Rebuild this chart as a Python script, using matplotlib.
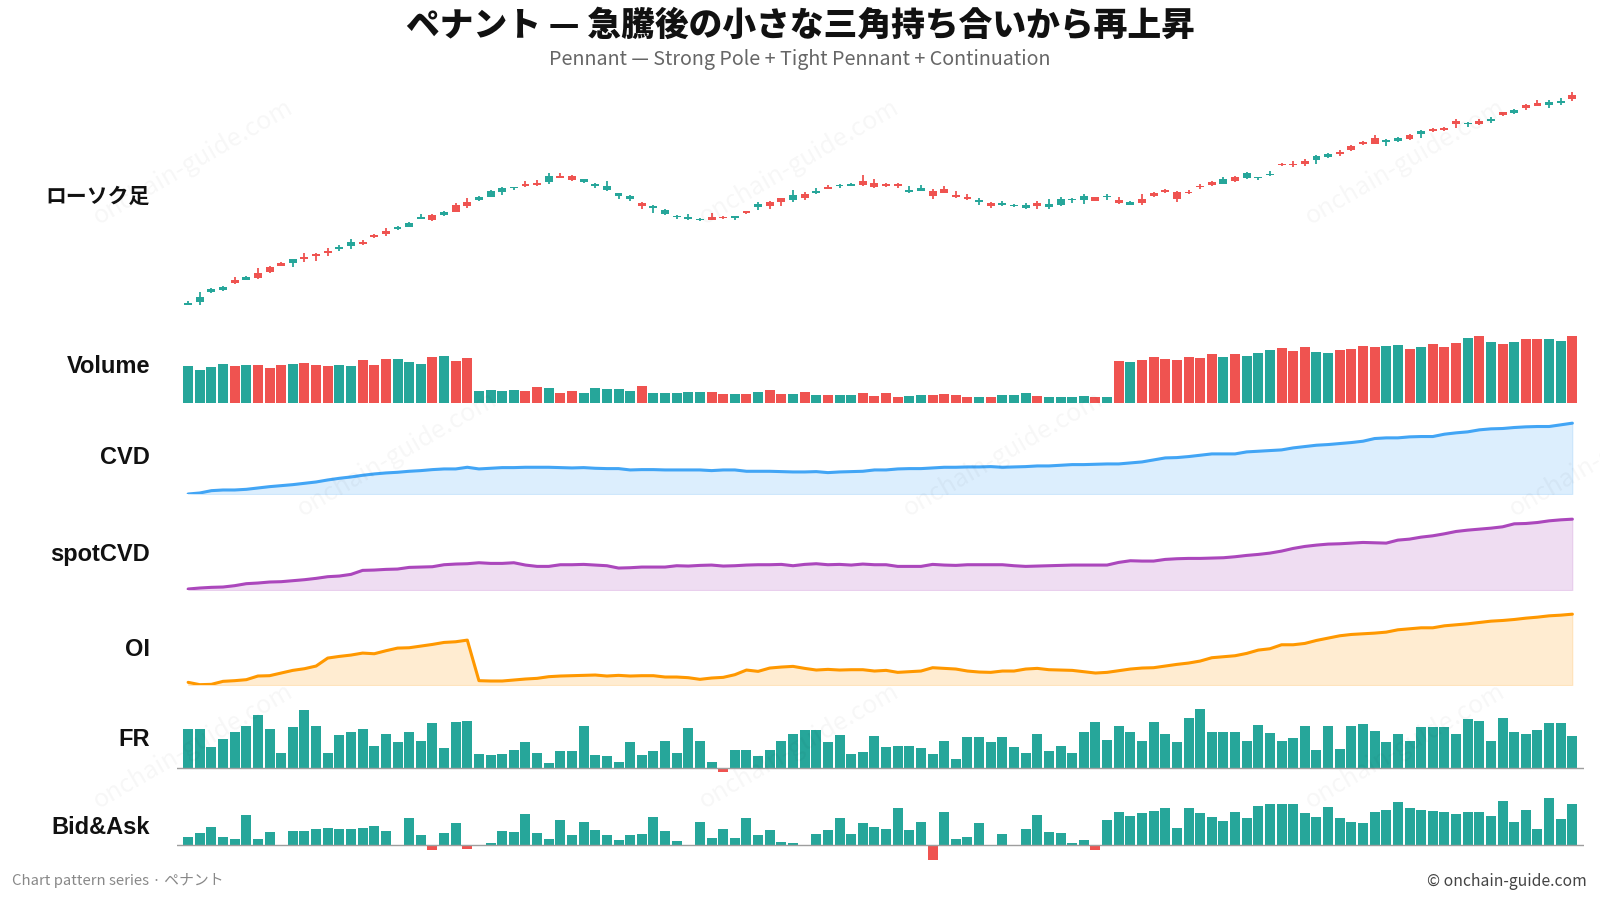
import matplotlib
matplotlib.use("Agg")

import matplotlib.pyplot as plt
import numpy as np

plt.rcParams["font.family"] = ["Noto Sans CJK JP", "DejaVu Sans"]

UP = "#26a69a"
DOWN = "#ef5350"

# ローソク足 (open / close / high / low)
opens = [95.0, 98.0, 108.0, 110.0, 120.3, 120.0, 127.3, 133.3, 137.3, 137.0,
         142.7, 146.3, 148.7, 151.0, 154.3, 158.0, 164.7, 169.3, 171.0, 173.0,
         181.3, 185.0, 185.0, 195.0, 198.3, 200.0, 203.3, 208.0, 211.7, 216.3,
         217.3, 218.0, 224.0, 224.0, 218.3, 214.0, 210.0, 204.3, 201.0, 196.7,
         192.3, 186.0, 183.0, 181.3, 180.0, 183.3, 183.3, 182.3, 188.7, 193.0,
         198.3, 201.7, 200.0, 206.3, 206.7, 213.3, 214.0, 214.3, 219.3, 217.3,
         216.3, 216.3, 208.0, 209.0, 209.3, 211.3, 205.0, 203.3, 198.0, 197.3,
         195.0, 194.0, 192.0, 196.7, 193.0, 195.0, 200.3, 200.0, 202.7, 203.0,
         199.7, 195.0, 201.3, 207.3, 209.7, 208.0, 208.3, 214.3, 218.0, 216.0,
         223.0, 222.0, 222.0, 224.7, 236.3, 236.3, 238.7, 240.0, 243.0, 248.0,
         254.3, 258.3, 262.0, 258.0, 259.0, 264.7, 266.0, 271.3, 272.3, 278.7,
         276.0, 279.0, 279.3, 287.7, 287.0, 295.0, 297.3, 294.7, 297.0, 305.3]
closes = [97.3, 103.3, 111.3, 113.3, 117.0, 123.3, 122.0, 128.0, 134.3, 140.7,
          140.7, 144.3, 146.7, 153.3, 158.3, 156.0, 163.0, 166.0, 173.3, 177.3,
          183.3, 180.0, 188.3, 188.3, 194.0, 203.3, 209.3, 212.3, 213.0, 214.0,
          215.0, 224.3, 222.0, 220.0, 220.7, 216.3, 214.3, 206.7, 204.3, 194.0,
          194.0, 190.3, 184.3, 182.7, 181.3, 180.0, 182.3, 183.7, 187.0, 196.3,
          194.0, 198.0, 205.3, 201.7, 209.3, 211.0, 215.3, 216.3, 214.7, 212.7,
          214.0, 214.0, 210.3, 212.3, 204.0, 207.0, 202.7, 201.0, 200.3, 194.0,
          197.3, 195.3, 195.0, 194.0, 196.3, 201.3, 201.3, 204.3, 199.3, 204.3,
          196.7, 198.3, 196.7, 204.0, 207.7, 201.0, 206.7, 212.7, 215.0, 221.0,
          219.0, 227.0, 223.0, 226.0, 234.7, 234.7, 236.3, 244.3, 246.3, 246.3,
          250.0, 256.3, 256.3, 260.0, 262.3, 261.0, 269.3, 269.0, 270.0, 276.0,
          277.3, 276.3, 281.3, 285.0, 289.7, 292.0, 294.3, 298.3, 299.3, 301.0]
highs = [99.0, 108.0, 112.3, 114.3, 123.0, 124.0, 132.0, 134.0, 138.0, 141.3,
         147.0, 147.0, 151.7, 155.0, 161.0, 159.7, 165.7, 172.0, 174.0, 178.0,
         185.7, 186.0, 189.0, 196.7, 202.0, 204.0, 210.0, 213.0, 213.3, 219.0,
         220.0, 226.7, 226.7, 225.0, 221.0, 216.7, 219.0, 207.3, 205.3, 198.0,
         195.0, 191.3, 185.0, 186.0, 181.7, 187.3, 184.0, 184.3, 189.3, 198.0,
         198.7, 202.3, 210.0, 208.0, 212.0, 215.0, 216.3, 217.0, 225.0, 221.0,
         216.7, 217.3, 214.0, 215.0, 211.0, 214.0, 208.7, 206.0, 202.3, 197.7,
         199.0, 196.0, 197.0, 199.0, 201.0, 203.0, 202.0, 206.0, 203.3, 206.0,
         203.0, 198.7, 206.0, 208.0, 210.7, 209.0, 210.0, 215.7, 218.7, 223.0,
         224.0, 228.0, 223.3, 229.0, 237.0, 239.0, 241.0, 245.0, 247.0, 250.0,
         255.0, 259.3, 265.0, 260.7, 263.3, 266.3, 270.3, 272.0, 273.3, 280.7,
         278.0, 281.3, 282.7, 288.3, 290.7, 296.3, 300.3, 300.3, 302.0, 308.0]
lows = [94.7, 95.3, 107.3, 109.3, 116.3, 119.7, 121.3, 127.3, 134.0, 133.0,
        138.3, 139.3, 144.3, 149.3, 151.3, 155.3, 162.3, 164.3, 170.3, 172.7,
        180.7, 179.3, 184.3, 187.7, 192.3, 199.3, 202.7, 205.0, 210.0, 213.3,
        214.3, 216.3, 221.7, 219.3, 217.3, 212.3, 209.3, 201.3, 199.3, 191.3,
        187.3, 185.3, 181.3, 180.3, 179.0, 179.7, 181.3, 180.3, 186.3, 190.3,
        191.0, 194.0, 198.0, 200.0, 206.3, 210.7, 212.0, 214.0, 214.0, 212.0,
        213.0, 212.0, 207.3, 208.7, 201.0, 206.7, 201.7, 200.3, 195.3, 192.0,
        194.0, 193.0, 191.0, 191.0, 191.0, 194.0, 197.0, 196.0, 198.7, 200.0,
        196.0, 194.7, 195.0, 203.0, 207.3, 198.0, 206.3, 211.0, 214.3, 215.7,
        218.3, 221.3, 220.0, 224.0, 234.0, 233.3, 234.0, 236.0, 242.3, 244.3,
        249.0, 255.3, 255.7, 254.0, 258.0, 260.3, 262.3, 268.0, 269.0, 272.0,
        273.3, 275.0, 277.0, 284.0, 286.0, 290.0, 293.7, 292.0, 295.0, 299.3]

volume = [110, 98, 107, 116, 110, 113, 113, 104, 113, 116,
          119, 113, 110, 113, 110, 128, 113, 131, 131, 122,
          116, 137, 140, 125, 134, 35, 38, 35, 38, 35,
          47, 44, 29, 35, 29, 44, 41, 41, 35, 50,
          29, 29, 29, 32, 32, 32, 26, 26, 26, 32,
          38, 26, 26, 32, 23, 23, 23, 23, 29, 20,
          29, 17, 20, 23, 23, 26, 23, 17, 17, 17,
          23, 23, 29, 20, 17, 17, 17, 20, 17, 17,
          125, 122, 128, 137, 131, 128, 137, 134, 146, 137,
          146, 140, 149, 158, 164, 155, 167, 152, 149, 158,
          161, 170, 167, 170, 173, 161, 167, 176, 167, 179,
          194, 200, 182, 176, 182, 191, 191, 191, 185, 200]

cvd = [0, 3, 10, 12, 12, 14, 18, 22, 25, 28,
       32, 36, 42, 47, 51, 56, 60, 63, 65, 68,
       70, 73, 75, 75, 80, 75, 77, 79, 79, 80,
       80, 80, 79, 78, 79, 77, 76, 76, 72, 73,
       73, 72, 72, 72, 72, 70, 72, 72, 68, 68,
       68, 67, 66, 66, 67, 64, 66, 67, 68, 72,
       72, 75, 76, 76, 78, 80, 80, 81, 81, 82,
       80, 81, 82, 84, 84, 86, 88, 88, 89, 90,
       90, 93, 96, 102, 108, 109, 112, 116, 120, 120,
       120, 126, 128, 130, 132, 138, 142, 146, 148, 151,
       154, 158, 166, 168, 168, 171, 172, 172, 179, 183,
       186, 192, 195, 196, 199, 201, 202, 202, 207, 212]

spot_cvd = [3, 6, 8, 9, 13, 19, 21, 24, 25, 28,
            31, 35, 40, 42, 47, 59, 60, 62, 63, 68,
            69, 70, 76, 78, 79, 82, 80, 80, 82, 75,
            71, 71, 76, 76, 77, 75, 73, 66, 67, 69,
            69, 69, 73, 72, 74, 75, 72, 73, 75, 76,
            76, 77, 73, 77, 79, 76, 77, 75, 78, 76,
            76, 71, 71, 71, 77, 75, 74, 76, 76, 76,
            76, 73, 71, 72, 73, 74, 75, 75, 75, 75,
            83, 88, 87, 87, 92, 94, 95, 95, 96, 97,
            100, 104, 107, 111, 117, 125, 131, 135, 138, 139,
            141, 143, 142, 141, 150, 153, 159, 163, 169, 176,
            180, 183, 186, 190, 199, 200, 203, 208, 211, 213]

oi = [8, 1, 2, 11, 13, 16, 27, 28, 36, 44,
      49, 57, 81, 86, 90, 96, 94, 103, 111, 112,
      117, 122, 128, 130, 135, 13, 12, 12, 15, 18,
      20, 25, 27, 28, 29, 30, 27, 29, 27, 28,
      28, 24, 24, 22, 17, 21, 23, 31, 45, 41,
      51, 54, 56, 50, 45, 47, 45, 46, 46, 42,
      44, 38, 40, 42, 52, 50, 48, 42, 39, 38,
      42, 42, 48, 50, 46, 45, 44, 40, 36, 38,
      43, 48, 51, 52, 57, 62, 66, 72, 82, 85,
      88, 95, 105, 109, 121, 121, 125, 134, 141, 148,
      152, 154, 156, 159, 166, 169, 172, 172, 178, 181,
      184, 188, 192, 194, 197, 201, 204, 208, 210, 213]

fr = [38, 38, 21, 28, 35, 41, 52, 38, 15, 40,
      57, 41, 15, 32, 35, 38, 22, 33, 25, 35,
      26, 44, 20, 45, 46, 14, 13, 14, 18, 25,
      15, 5, 17, 17, 41, 13, 12, 6, 25, 13,
      17, 26, 15, 39, 26, 6, -4, 18, 18, 12,
      18, 26, 33, 37, 37, 25, 32, 14, 16, 31,
      21, 22, 22, 20, 14, 26, 9, 30, 30, 25,
      30, 21, 15, 33, 17, 22, 15, 35, 45, 27,
      41, 35, 26, 45, 33, 25, 49, 58, 35, 35,
      35, 26, 42, 34, 26, 29, 41, 18, 41, 19,
      41, 43, 36, 25, 33, 26, 40, 40, 40, 33,
      48, 46, 26, 49, 35, 33, 37, 44, 44, 31]

bid_ask = [8, 12, 18, 8, 6, 29, 6, 13, 0, 14,
           14, 16, 17, 16, 16, 17, 19, 14, 0, 26,
           10, -5, 12, 21, -4, -1, 2, 14, 13, 30,
           12, 6, 24, 10, 22, 15, 10, 5, 10, 11,
           27, 14, 4, 0, 22, 7, 16, 7, 26, 10,
           15, 3, 2, 0, 11, 15, 26, 11, 21, 18,
           16, 36, 15, 22, -15, 32, 6, 8, 21, 0,
           11, -1, 16, 29, 13, 12, 2, 5, -5, 24,
           32, 28, 31, 33, 36, 17, 36, 31, 27, 23,
           32, 26, 38, 40, 40, 40, 31, 27, 37, 26,
           22, 21, 32, 34, 42, 36, 34, 33, 32, 30,
           32, 32, 28, 43, 22, 34, 16, 46, 25, 40]

n = len(closes)
x = np.arange(n)
colors = [UP if c >= o else DOWN for o, c in zip(opens, closes)]

fig = plt.figure(figsize=(16, 9), dpi=100)
fig.patch.set_facecolor("white")

LEFT, WIDTH = 176.5 / 1600, 1407.5 / 1600


def panel(top, bottom):
    # top / bottom in pixels from the top of the figure
    ax = fig.add_axes([LEFT, 1 - bottom / 900, WIDTH, (bottom - top) / 900])
    ax.set_xlim(-1, n)
    ax.axis("off")
    return ax


def label(text, y, size=17):
    fig.text(150 / 1600, 1 - y / 900, text, ha="right", va="center",
             fontsize=size, fontweight="bold", color="#111111",
             family=["Liberation Sans", "Noto Sans CJK JP"])


# watermark
for wx, wy in [(193, 162), (799, 162), (1405, 162),
               (397, 454), (1003, 454), (1609, 454),
               (193, 746), (799, 746), (1405, 746)]:
    fig.text(wx / 1600, 1 - wy / 900, "onchain-guide.com", rotation=30,
             ha="center", va="center", fontsize=18, color="#000000",
             alpha=0.035)

# candles
ax = panel(79, 318)
ax.vlines(x, lows, highs, color=colors, lw=1.3)
body_lo = np.minimum(opens, closes)
body_h = np.maximum(np.abs(np.subtract(closes, opens)), 0.9)
ax.bar(x, body_h, bottom=body_lo, width=0.68, color=colors)
lo, hi = min(lows), max(highs)
pad = (hi - lo) * 0.06
ax.set_ylim(lo - pad, hi + pad)
fig.text(150 / 1600, 1 - 196 / 900, "ローソク足", ha="right", va="center",
         fontsize=15, fontweight="bold", color="#111111")

# volume
ax = panel(330, 402.7)
ax.bar(x, volume, width=0.86, color=colors)
ax.set_ylim(0, max(volume) * 1.09)
label("Volume", 366)


def area(top, bottom, values, color):
    ax = panel(top, bottom)
    ax.fill_between(x, 0, values, facecolor=color, alpha=0.18,
                    edgecolor=color, lw=0.8)
    ax.plot(x, values, color=color, lw=2.2, solid_capstyle="round")
    ax.set_ylim(0, max(values) * 1.2)
    return ax


area(409, 494, cvd, "#42a5f5")
label("CVD", 458)
area(505, 590, spot_cvd, "#ab47bc")
label("spotCVD", 554)
area(600, 685, oi, "#ff9800")
label("OI", 650)

# funding rate
ax = panel(700, 778)
ax.bar(x, fr, width=0.86, color=[UP if v >= 0 else DOWN for v in fr])
ax.axhline(0, color="#9e9e9e", lw=1)
ax.set_ylim(-max(fr) * 0.17, max(fr) * 1.15)
label("FR", 740)

# bid & ask
ax = panel(790, 864)
ax.bar(x, bid_ask, width=0.86, color=[UP if v >= 0 else DOWN for v in bid_ask])
ax.axhline(0, color="#9e9e9e", lw=1)
ax.set_ylim(min(bid_ask) * 1.25, max(bid_ask) * 1.17)
label("Bid&Ask", 828)

fig.text(0.5, 1 - 25 / 900, "ペナント — 急騰後の小さな三角持ち合いから再上昇",
         ha="center", va="center", fontsize=24.3, fontweight="heavy",
         color="#111111")
fig.text(0.5, 1 - 59 / 900,
         "Pennant — Strong Pole + Tight Pennant + Continuation",
         ha="center", va="center", fontsize=14.2, color="#666666")
fig.text(12 / 1600, 1 - 881 / 900, "Chart pattern series · ペナント",
         ha="left", va="center", fontsize=10.7, color="#888888")
fig.text(1587 / 1600, 1 - 881 / 900, "© onchain-guide.com",
         ha="right", va="center", fontsize=11.3, color="#444444")

fig.savefig("out.png", dpi=100)
